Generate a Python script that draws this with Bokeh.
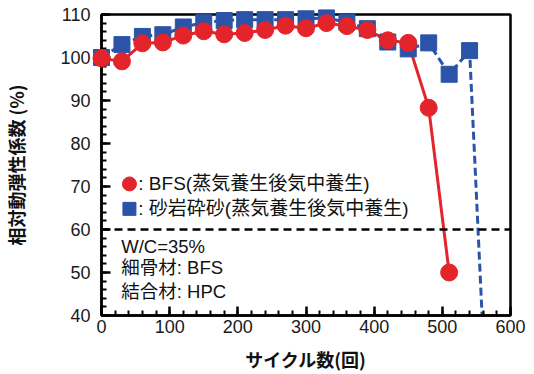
from bokeh.plotting import figure
from bokeh.models import Range1d, Span, FixedTicker
from bokeh.core.properties import value
from bokeh.embed import file_html
from bokeh.resources import INLINE

# ---- data ----
bfs_cycles = [0, 30, 60, 90, 120, 150, 180, 210, 240, 270, 300, 330, 360, 390, 420, 450, 480, 510]
bfs_values = [99.8, 99.1, 103.3, 103.5, 105.1, 106.1, 105.4, 105.7, 106.4, 107.4, 106.8, 108.0, 107.3, 106.4, 104.0, 103.4, 88.3, 50.0]

sand_cycles = [0, 30, 60, 90, 120, 150, 180, 210, 240, 270, 300, 330, 360, 390, 420, 450, 480, 510, 540]
sand_values = [100.0, 103.0, 104.9, 105.3, 107.1, 108.1, 108.6, 108.8, 108.8, 108.8, 109.0, 109.2, 108.2, 106.7, 103.6, 102.0, 103.4, 96.1, 101.6]
# the dashed line continues down past the axis after the last measurement
sand_tail_cycle = 560
sand_tail_value = 34.3

x_ticks = [0, 100, 200, 300, 400, 500, 600]
y_ticks = [40, 50, 60, 70, 80, 90, 100, 110]
x_minor = list(range(0, 601, 20))
y_minor = list(range(40, 111, 2))
limit_value = 60

label_bfs = ": BFS(蒸気養生後気中養生)"
label_sand = ": 砂岩砕砂(蒸気養生後気中養生)"
notes = ["W/C=35%", "細骨材: BFS", "結合材: HPC"]
x_title = "サイクル数(回)"
y_title = "相対動弾性係数 (%)"

RED = "#E3242B"
BLUE = "#2B54A8"
TXT_FONT = "Liberation Sans, Noto Sans CJK JP"

p = figure(width=534, height=374, x_range=Range1d(0, 600), y_range=Range1d(40, 110),
           output_backend="svg", toolbar_location=None,
           min_border_left=101, min_border_right=24, min_border_top=14, min_border_bottom=58)
p.background_fill_color = "white"
p.border_fill_color = "white"
p.grid.visible = False
p.outline_line_color = "black"
p.outline_line_width = 2.5

for ax in (p.xaxis, p.yaxis):
    ax.axis_line_width = 2.5
    ax.axis_line_color = "black"
    ax.major_tick_line_width = 2.5
    ax.minor_tick_line_width = 2
    ax.major_tick_in = 9
    ax.major_tick_out = 0
    ax.minor_tick_in = 5
    ax.minor_tick_out = 0
    ax.major_label_text_font = "Liberation Sans"
    ax.major_label_text_font_size = "18px"
    ax.major_label_text_color = "#1a1a1a"
    ax.axis_label_text_font = "Noto Sans CJK JP"
    ax.axis_label_text_font_style = "bold"
    ax.axis_label_text_font_size = "18px"
    ax.axis_label_text_color = "#111111"

p.xaxis.ticker = FixedTicker(ticks=x_ticks, minor_ticks=x_minor)
p.yaxis.ticker = FixedTicker(ticks=y_ticks, minor_ticks=y_minor)
p.xaxis.major_label_standoff = 4
p.yaxis.major_label_standoff = 11
p.xaxis.axis_label = x_title
p.yaxis.axis_label = y_title
p.xaxis.axis_label_standoff = 10
p.yaxis.axis_label_standoff = 28

# 60% limit line
p.add_layout(Span(location=limit_value, dimension="width", line_color="black",
                  line_width=2.5, line_dash="8 5"))

# sand series (dashed blue)
p.line(sand_cycles + [sand_tail_cycle], sand_values + [sand_tail_value],
       line_color=BLUE, line_width=3, line_dash="8 4")
p.scatter(sand_cycles, sand_values, marker="square", size=16,
          fill_color=BLUE, line_color=BLUE, level="overlay")

# BFS series (solid red)
p.line(bfs_cycles, bfs_values, line_color=RED, line_width=3)
p.scatter(bfs_cycles, bfs_values, marker="circle", size=17,
          fill_color=RED, line_color=RED, level="overlay")

# legend drawn inside the plot
p.scatter([41], [70.6], marker="circle", size=14, fill_color=RED, line_color=RED)
p.scatter([41], [64.8], marker="square", size=13, fill_color=BLUE, line_color=BLUE)
p.text([54], [70.6], text=[label_bfs], text_font=value(TXT_FONT), text_font_size="19px",
       text_baseline="middle", text_color="#111111")
p.text([54], [64.8], text=[label_sand], text_font=value(TXT_FONT), text_font_size="19px",
       text_baseline="middle", text_color="#111111")

note_y = [56.0, 51.1, 45.5]
p.text([29] * len(notes), note_y, text=notes, text_font=value(TXT_FONT), text_font_size="18.5px",
       text_baseline="middle", text_color="#111111")

open("out.html", "w").write(file_html(p, INLINE))
